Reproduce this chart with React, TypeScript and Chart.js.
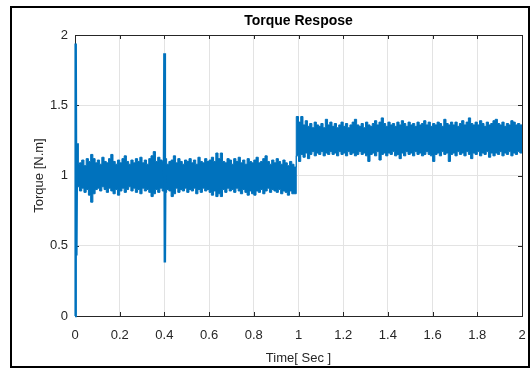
import React, { useEffect, useRef } from 'react';
import { Chart, registerables } from 'chart.js';

Chart.register(...registerables);

const FONT = "'Liberation Sans', Arial, sans-serif";
const BLUE = '#0072BD';
const AXIS = '#262626';

const chartTitle = 'Torque Respose';
const xAxisTitle = 'Time[ Sec ]';
const yAxisTitle = 'Torque [N.m]';

const xTickLabels = ['0', '0.2', '0.4', '0.6', '0.8', '1', '1.2', '1.4', '1.6', '1.8', '2'];
const yTickLabels = ['0', '0.5', '1', '1.5', '2'];

// envelope samples every 0.01 s, from t = 0.01 to t = 2.00
const sampleStart = 0.01;
const sampleStep = 0.01;

const upperEnvelope = [
  1.10, 1.08, 1.09, 1.11, 1.07, 1.12, 1.10, 1.15, 1.12, 1.09,
  1.11, 1.08, 1.13, 1.10, 1.09, 1.12, 1.15, 1.10, 1.08, 1.11,
  1.09, 1.12, 1.14, 1.10, 1.08, 1.11, 1.09, 1.12, 1.10, 1.13,
  1.09, 1.11, 1.08, 1.12, 1.14, 1.17, 1.10, 1.13, 1.11, 1.10,
  1.12, 1.08, 1.10, 1.11, 1.14, 1.09, 1.12, 1.10, 1.08, 1.11,
  1.10, 1.12, 1.09, 1.11, 1.08, 1.13, 1.10, 1.09, 1.12, 1.10,
  1.11, 1.13, 1.10, 1.16, 1.12, 1.16, 1.10, 1.09, 1.12, 1.11,
  1.08, 1.12, 1.10, 1.13, 1.09, 1.11, 1.08, 1.12, 1.10, 1.09,
  1.11, 1.13, 1.09, 1.10, 1.12, 1.14, 1.10, 1.08, 1.11, 1.09,
  1.12, 1.10, 1.08, 1.11, 1.09, 1.07, 1.10, 1.08, 1.06,
  1.42, 1.38, 1.42, 1.36, 1.39, 1.35, 1.37, 1.34, 1.38, 1.36,
  1.35, 1.37, 1.34, 1.40, 1.36, 1.38, 1.35, 1.37, 1.34, 1.36,
  1.38, 1.35, 1.37, 1.34, 1.36, 1.38, 1.40, 1.36, 1.35, 1.37,
  1.34, 1.38, 1.36, 1.35, 1.37, 1.39, 1.36, 1.38, 1.41, 1.37,
  1.35, 1.38, 1.36, 1.37, 1.35, 1.38, 1.36, 1.39, 1.37, 1.35,
  1.38, 1.36, 1.37, 1.35, 1.38, 1.36, 1.37, 1.39, 1.36, 1.38,
  1.35, 1.37, 1.36, 1.38, 1.37, 1.35, 1.40, 1.37, 1.36, 1.38,
  1.36, 1.38, 1.35, 1.37, 1.39, 1.36, 1.38, 1.41, 1.37, 1.36,
  1.38, 1.36, 1.39, 1.37, 1.35, 1.38, 1.36, 1.37, 1.39, 1.40,
  1.37, 1.36, 1.38, 1.35, 1.37, 1.36, 1.39, 1.38, 1.36, 1.37, 1.36,
];

const lowerEnvelope = [
  0.90, 0.92, 0.89, 0.91, 0.88, 0.90, 0.86, 0.81, 0.87, 0.90,
  0.91, 0.89, 0.92, 0.90, 0.88, 0.91, 0.89, 0.87, 0.90, 0.86,
  0.89, 0.91, 0.88, 0.90, 0.92, 0.89, 0.91, 0.88, 0.90, 0.87,
  0.91, 0.89, 0.90, 0.88, 0.85, 0.87, 0.90, 0.88, 0.91, 0.89,
  0.88, 0.90, 0.89, 0.85, 0.87, 0.91, 0.88, 0.90, 0.89, 0.91,
  0.88, 0.90, 0.89, 0.91, 0.87, 0.90, 0.88, 0.91, 0.89, 0.90,
  0.88, 0.86, 0.89, 0.85, 0.87, 0.85, 0.90, 0.88, 0.91, 0.89,
  0.90, 0.88, 0.91, 0.89, 0.87, 0.90, 0.88, 0.86, 0.89, 0.87,
  0.86, 0.89, 0.88, 0.90, 0.87, 0.89, 0.91, 0.88, 0.90, 0.89,
  0.88, 0.90, 0.87, 0.89, 0.88, 0.86, 0.89, 0.87, 0.87,
  1.14, 1.10, 1.15, 1.13, 1.16, 1.12, 1.15, 1.17, 1.14, 1.16,
  1.15, 1.17, 1.14, 1.16, 1.15, 1.17, 1.15, 1.16, 1.14, 1.17,
  1.15, 1.16, 1.14, 1.17, 1.15, 1.16, 1.14, 1.15, 1.17, 1.15,
  1.16, 1.14, 1.10, 1.15, 1.16, 1.14, 1.17, 1.11, 1.15, 1.16,
  1.14, 1.16, 1.15, 1.17, 1.14, 1.15, 1.12, 1.16, 1.14, 1.17,
  1.15, 1.16, 1.14, 1.17, 1.15, 1.16, 1.14, 1.15, 1.17, 1.15,
  1.14, 1.10, 1.15, 1.16, 1.14, 1.17, 1.15, 1.16, 1.10, 1.15,
  1.16, 1.14, 1.17, 1.15, 1.16, 1.14, 1.17, 1.15, 1.12, 1.16,
  1.15, 1.17, 1.14, 1.16, 1.15, 1.17, 1.13, 1.16, 1.14, 1.16,
  1.15, 1.17, 1.14, 1.16, 1.15, 1.17, 1.14, 1.16, 1.15, 1.17, 1.16,
];

// start-up transient
const startTimes = [0, 0.003, 0.006, 0.009, 0.012];
const startTorque = [0, 1.94, 0.43, 1.23, 1.0];

// disturbance spike near t = 0.4 s
const spikeTimes = [0.398, 0.4, 0.402, 0.404];
const spikeTorque = [1.0, 1.87, 0.38, 1.0];

const toPoints = (ts: number[], ys: number[]) => ys.map((y, i) => ({ x: ts[i], y }));
const envPoints = (ys: number[]) => ys.map((y, i) => ({ x: +(sampleStart + i * sampleStep).toFixed(3), y }));

const decorPlugin = {
  id: 'decor',
  beforeDraw(chart: any) {
    const ctx = chart.ctx;
    ctx.save();
    ctx.fillStyle = '#ffffff';
    ctx.fillRect(0, 0, chart.width, chart.height);
    ctx.strokeStyle = '#000000';
    ctx.lineWidth = 2;
    ctx.strokeRect(11, 7, 518, 360);
    ctx.restore();
  },
  beforeDatasetsDraw(chart: any) {
    const ctx = chart.ctx;
    const { left, right, top, bottom } = chart.chartArea;
    const xs = chart.scales.x;
    const ys = chart.scales.y;
    ctx.save();
    ctx.strokeStyle = AXIS;
    ctx.lineWidth = 1;
    ctx.strokeRect(Math.round(left) + 0.5, Math.round(top) + 0.5, Math.round(right - left), Math.round(bottom - top));
    ctx.beginPath();
    const tl = 4;
    xs.ticks.forEach((t: any) => {
      const px = Math.round(xs.getPixelForValue(t.value)) + 0.5;
      ctx.moveTo(px, bottom);
      ctx.lineTo(px, bottom - tl);
      ctx.moveTo(px, top);
      ctx.lineTo(px, top + tl);
    });
    ys.ticks.forEach((t: any) => {
      const py = Math.round(ys.getPixelForValue(t.value)) + 0.5;
      ctx.moveTo(left, py);
      ctx.lineTo(left + tl, py);
      ctx.moveTo(right, py);
      ctx.lineTo(right - tl, py);
    });
    ctx.stroke();
    ctx.restore();
  },
  afterDraw(chart: any) {
    const ctx = chart.ctx;
    const { left, right } = chart.chartArea;
    ctx.save();
    ctx.fillStyle = '#000000';
    ctx.font = `bold 14px ${FONT}`;
    ctx.textAlign = 'center';
    ctx.textBaseline = 'middle';
    ctx.fillText(chartTitle, (left + right) / 2, 21);
    ctx.restore();
  },
};

export default function App() {
  const ref = useRef<HTMLCanvasElement | null>(null);

  useEffect(() => {
    if (!ref.current) return;
    const chart = new Chart(ref.current, {
      type: 'line',
      data: {
        datasets: [
          {
            data: toPoints(spikeTimes, spikeTorque),
            borderColor: BLUE,
            borderWidth: 2.5,
            pointRadius: 0,
            fill: false,
          },
          {
            data: toPoints(startTimes, startTorque),
            borderColor: BLUE,
            borderWidth: 2.5,
            pointRadius: 0,
            fill: false,
            clip: 6,
          },
          {
            data: envPoints(upperEnvelope),
            borderColor: BLUE,
            backgroundColor: BLUE,
            borderWidth: 1,
            pointRadius: 0,
            stepped: 'after',
            fill: '+1',
          },
          {
            data: envPoints(lowerEnvelope),
            borderColor: BLUE,
            backgroundColor: BLUE,
            borderWidth: 1,
            pointRadius: 0,
            stepped: 'after',
            fill: false,
          },
        ],
      },
      options: {
        responsive: false,
        animation: false,
        devicePixelRatio: 1,
        layout: { padding: { top: 35, right: 9, left: 0, bottom: 0 } },
        plugins: {
          legend: { display: false },
          title: { display: false },
          tooltip: { enabled: false },
        },
        scales: {
          x: {
            type: 'linear',
            min: 0,
            max: 2,
            afterFit: (s: any) => { s.height = 53; s.paddingLeft = 0; s.paddingRight = 0; },
            afterBuildTicks: (s: any) => {
              s.ticks = xTickLabels.map((l) => ({ value: parseFloat(l) }));
            },
            ticks: {
              autoSkip: false,
              maxRotation: 0,
              padding: 12,
              color: AXIS,
              font: { family: FONT, size: 13 },
              callback: (_v: any, i: number) => xTickLabels[i],
            },
            grid: { color: '#e3e3e3', drawTicks: false, lineWidth: 1 },
            border: { display: false },
            title: {
              display: true,
              text: xAxisTitle,
              color: AXIS,
              font: { family: FONT, size: 13 },
              padding: { top: 0, bottom: 3 },
            },
          },
          y: {
            type: 'linear',
            min: 0,
            max: 2,
            afterFit: (s: any) => { s.width = 75; s.paddingTop = 0; s.paddingBottom = 0; },
            afterBuildTicks: (s: any) => {
              s.ticks = yTickLabels.map((l) => ({ value: parseFloat(l) }));
            },
            ticks: {
              autoSkip: false,
              padding: 7,
              color: AXIS,
              font: { family: FONT, size: 13 },
              callback: (_v: any, i: number) => yTickLabels[i],
            },
            grid: { color: '#e3e3e3', drawTicks: false, lineWidth: 1 },
            border: { display: false },
            title: {
              display: true,
              text: yAxisTitle,
              color: AXIS,
              font: { family: FONT, size: 13 },
              padding: { top: 32, bottom: 0 },
            },
          },
        },
      },
      plugins: [decorPlugin],
    });
    return () => chart.destroy();
  }, []);

  return (
    <div style={{ position: 'fixed', left: 0, top: 0, width: 531, height: 369, background: '#fff' }}>
      <canvas ref={ref} width={531} height={369} style={{ width: 531, height: 369, display: 'block' }} />
    </div>
  );
}
